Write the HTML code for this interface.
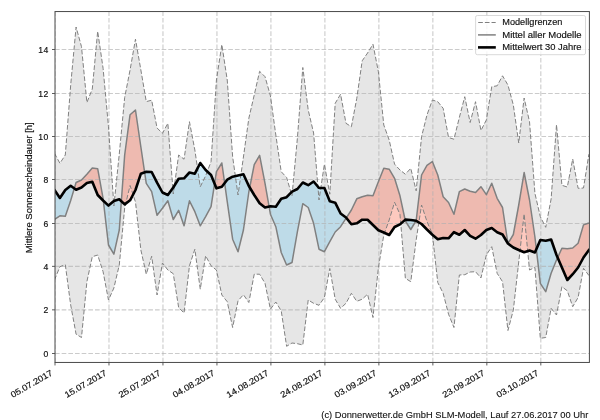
<!DOCTYPE html>
<html><head><meta charset="utf-8"><title>Mittlere Sonnenscheindauer</title>
<style>
html,body{margin:0;padding:0;background:#fff;}
body{width:600px;height:420px;overflow:hidden;font-family:"Liberation Sans",sans-serif;}
svg{display:block;}
text{font-family:"Liberation Sans",sans-serif;fill:#111;stroke:#111;stroke-width:0.18px;}
</style></head><body>
<svg width="600" height="420" viewBox="0 0 600 420">
<rect width="600" height="420" fill="#fff"/>
<defs>
<clipPath id="ax"><rect x="55.00" y="11.55" width="534.40" height="350.90"/></clipPath>
<clipPath id="above"><path d="M55.00,0.00 L54.50,190.00 L59.90,198.00 L65.30,190.00 L70.69,185.80 L76.09,189.70 L81.49,187.50 L86.89,183.00 L92.29,181.70 L97.68,195.00 L103.08,200.50 L108.48,205.60 L113.88,201.00 L119.28,199.30 L124.67,204.40 L130.07,200.30 L135.47,190.00 L140.87,173.70 L146.27,171.80 L151.66,172.00 L157.06,182.60 L162.46,192.50 L167.86,195.00 L173.26,187.50 L178.65,178.80 L184.05,178.30 L189.45,172.50 L194.85,173.70 L200.25,163.00 L205.64,170.00 L211.04,175.00 L216.44,188.30 L221.84,186.70 L227.24,179.70 L232.63,176.70 L238.03,175.50 L243.43,174.20 L248.83,186.00 L254.23,195.00 L259.62,203.30 L265.02,207.50 L270.42,206.30 L275.82,206.70 L281.22,198.80 L286.61,197.20 L292.01,191.70 L297.41,189.00 L302.81,182.50 L308.21,185.20 L313.60,181.50 L319.00,188.00 L324.40,188.00 L329.80,201.30 L335.20,202.70 L340.59,213.50 L345.99,217.50 L351.39,224.20 L356.79,223.30 L362.19,219.70 L367.58,219.80 L372.98,225.00 L378.38,230.30 L383.78,232.50 L389.18,235.00 L394.57,227.00 L399.97,224.40 L405.37,219.60 L410.77,220.00 L416.17,220.80 L421.56,224.00 L426.96,229.50 L432.36,234.70 L437.76,239.20 L443.16,238.00 L448.55,238.30 L453.95,232.20 L459.35,234.70 L464.75,230.00 L470.15,235.80 L475.54,238.70 L480.94,235.00 L486.34,230.00 L491.74,228.00 L497.14,232.20 L502.53,234.50 L507.93,243.50 L513.33,247.50 L518.73,250.00 L524.13,252.30 L529.52,250.50 L534.92,252.50 L540.32,240.00 L545.72,240.80 L551.12,239.50 L556.51,255.00 L561.91,267.50 L567.31,280.00 L572.71,274.20 L578.11,267.50 L583.50,257.50 L588.90,250.00 L589.40,0.00 Z"/></clipPath>
<clipPath id="below"><path d="M55.00,420.00 L54.50,190.00 L59.90,198.00 L65.30,190.00 L70.69,185.80 L76.09,189.70 L81.49,187.50 L86.89,183.00 L92.29,181.70 L97.68,195.00 L103.08,200.50 L108.48,205.60 L113.88,201.00 L119.28,199.30 L124.67,204.40 L130.07,200.30 L135.47,190.00 L140.87,173.70 L146.27,171.80 L151.66,172.00 L157.06,182.60 L162.46,192.50 L167.86,195.00 L173.26,187.50 L178.65,178.80 L184.05,178.30 L189.45,172.50 L194.85,173.70 L200.25,163.00 L205.64,170.00 L211.04,175.00 L216.44,188.30 L221.84,186.70 L227.24,179.70 L232.63,176.70 L238.03,175.50 L243.43,174.20 L248.83,186.00 L254.23,195.00 L259.62,203.30 L265.02,207.50 L270.42,206.30 L275.82,206.70 L281.22,198.80 L286.61,197.20 L292.01,191.70 L297.41,189.00 L302.81,182.50 L308.21,185.20 L313.60,181.50 L319.00,188.00 L324.40,188.00 L329.80,201.30 L335.20,202.70 L340.59,213.50 L345.99,217.50 L351.39,224.20 L356.79,223.30 L362.19,219.70 L367.58,219.80 L372.98,225.00 L378.38,230.30 L383.78,232.50 L389.18,235.00 L394.57,227.00 L399.97,224.40 L405.37,219.60 L410.77,220.00 L416.17,220.80 L421.56,224.00 L426.96,229.50 L432.36,234.70 L437.76,239.20 L443.16,238.00 L448.55,238.30 L453.95,232.20 L459.35,234.70 L464.75,230.00 L470.15,235.80 L475.54,238.70 L480.94,235.00 L486.34,230.00 L491.74,228.00 L497.14,232.20 L502.53,234.50 L507.93,243.50 L513.33,247.50 L518.73,250.00 L524.13,252.30 L529.52,250.50 L534.92,252.50 L540.32,240.00 L545.72,240.80 L551.12,239.50 L556.51,255.00 L561.91,267.50 L567.31,280.00 L572.71,274.20 L578.11,267.50 L583.50,257.50 L588.90,250.00 L589.40,420.00 Z"/></clipPath>
</defs>
<g clip-path="url(#ax)">
<path d="M54.50,153.30 L59.90,163.30 L65.30,155.00 L70.69,85.00 L76.09,27.00 L81.49,46.70 L86.89,102.50 L92.29,89.00 L97.68,31.30 L103.08,68.30 L108.48,126.70 L113.88,206.00 L119.28,154.00 L124.67,97.50 L130.07,70.00 L135.47,39.20 L140.87,70.00 L146.27,101.60 L151.66,100.20 L157.06,128.00 L162.46,133.30 L167.86,123.30 L173.26,194.00 L178.65,155.00 L184.05,159.20 L189.45,121.70 L194.85,150.00 L200.25,186.80 L205.64,175.80 L211.04,161.70 L216.44,80.00 L221.84,44.60 L227.24,80.00 L232.63,156.70 L238.03,195.00 L243.43,157.00 L248.83,118.30 L254.23,95.00 L259.62,71.30 L265.02,76.70 L270.42,95.80 L275.82,135.00 L281.22,171.70 L286.61,177.50 L292.01,195.80 L297.41,138.00 L302.81,67.50 L308.21,110.00 L313.60,133.00 L319.00,200.00 L324.40,164.20 L329.80,194.20 L335.20,103.30 L340.59,94.20 L345.99,123.30 L351.39,126.70 L356.79,98.30 L362.19,60.80 L367.58,53.00 L372.98,44.20 L378.38,71.70 L383.78,125.00 L389.18,140.00 L394.57,164.20 L399.97,170.00 L405.37,174.20 L410.77,168.30 L416.17,190.80 L421.56,136.70 L426.96,115.00 L432.36,100.00 L437.76,101.70 L443.16,108.30 L448.55,137.50 L453.95,139.20 L459.35,117.50 L464.75,96.70 L470.15,122.50 L475.54,101.70 L480.94,130.50 L486.34,120.00 L491.74,86.70 L497.14,85.80 L502.53,75.80 L507.93,85.00 L513.33,105.00 L518.73,143.00 L524.13,98.00 L529.52,121.70 L534.92,193.30 L540.32,216.70 L545.72,227.30 L551.12,199.00 L556.51,124.70 L561.91,185.30 L567.31,187.00 L572.71,159.00 L578.11,188.30 L583.50,188.00 L588.90,154.20 L588.90,275.50 L583.50,268.30 L578.11,297.50 L572.71,306.70 L567.31,290.80 L561.91,286.70 L556.51,315.00 L551.12,308.30 L545.72,337.50 L540.32,338.30 L534.92,267.50 L529.52,270.00 L524.13,214.00 L518.73,262.00 L513.33,310.00 L507.93,330.50 L502.53,281.70 L497.14,273.30 L491.74,246.70 L486.34,255.00 L480.94,278.00 L475.54,271.70 L470.15,272.00 L464.75,274.70 L459.35,275.00 L453.95,327.50 L448.55,314.20 L443.16,293.30 L437.76,282.50 L432.36,234.00 L426.96,221.50 L421.56,205.00 L416.17,240.00 L410.77,281.70 L405.37,278.30 L399.97,214.30 L394.57,202.30 L389.18,220.00 L383.78,235.00 L378.38,268.00 L372.98,317.50 L367.58,294.20 L362.19,299.20 L356.79,301.30 L351.39,293.30 L345.99,303.30 L340.59,308.30 L335.20,299.20 L329.80,268.50 L324.40,297.50 L319.00,305.30 L313.60,303.30 L308.21,300.00 L302.81,345.00 L297.41,343.70 L292.01,343.00 L286.61,346.30 L281.22,310.80 L275.82,302.00 L270.42,309.20 L265.02,283.30 L259.62,274.20 L254.23,274.20 L248.83,302.50 L243.43,294.70 L238.03,300.80 L232.63,327.50 L227.24,301.70 L221.84,295.00 L216.44,270.00 L211.04,265.80 L205.64,255.80 L200.25,289.20 L194.85,249.20 L189.45,265.80 L184.05,313.00 L178.65,307.50 L173.26,273.70 L167.86,270.00 L162.46,263.00 L157.06,295.00 L151.66,256.30 L146.27,274.20 L140.87,250.00 L135.47,202.00 L130.07,185.50 L124.67,208.00 L119.28,265.00 L113.88,288.00 L108.48,300.00 L103.08,271.70 L97.68,255.00 L92.29,256.70 L86.89,281.70 L81.49,337.50 L76.09,334.20 L70.69,305.00 L65.30,264.70 L59.90,266.70 L54.50,280.00 Z" fill="#808080" fill-opacity="0.2"/>
<g clip-path="url(#above)"><path d="M54.50,219.50 L59.90,215.80 L65.30,216.30 L70.69,200.50 L76.09,182.50 L81.49,180.00 L86.89,174.20 L92.29,168.00 L97.68,168.70 L103.08,198.30 L108.48,245.00 L113.88,254.20 L119.28,230.00 L124.67,155.00 L130.07,114.70 L135.47,110.00 L140.87,147.00 L146.27,183.30 L151.66,191.70 L157.06,215.30 L162.46,208.30 L167.86,200.80 L173.26,219.50 L178.65,210.30 L184.05,225.80 L189.45,200.80 L194.85,211.70 L200.25,225.80 L205.64,216.70 L211.04,206.70 L216.44,171.70 L221.84,163.00 L227.24,201.70 L232.63,239.20 L238.03,251.70 L243.43,230.00 L248.83,192.00 L254.23,164.70 L259.62,155.30 L265.02,183.30 L270.42,214.20 L275.82,226.70 L281.22,252.50 L286.61,265.00 L292.01,262.50 L297.41,231.70 L302.81,203.70 L308.21,207.50 L313.60,223.30 L319.00,249.20 L324.40,251.70 L329.80,241.70 L335.20,232.00 L340.59,226.70 L345.99,218.30 L351.39,210.00 L356.79,198.80 L362.19,196.70 L367.58,195.30 L372.98,195.80 L378.38,181.70 L383.78,168.30 L389.18,169.20 L394.57,178.30 L399.97,195.80 L405.37,221.00 L410.77,229.50 L416.17,220.50 L421.56,175.00 L426.96,165.40 L432.36,161.50 L437.76,175.00 L443.16,196.80 L448.55,202.50 L453.95,214.20 L459.35,191.70 L464.75,189.00 L470.15,191.30 L475.54,192.50 L480.94,186.70 L486.34,194.70 L491.74,183.30 L497.14,198.30 L502.53,207.50 L507.93,243.50 L513.33,234.50 L518.73,205.00 L524.13,172.50 L529.52,200.00 L534.92,237.00 L540.32,283.30 L545.72,291.70 L551.12,273.30 L556.51,260.00 L561.91,248.30 L567.31,248.70 L572.71,248.00 L578.11,243.30 L583.50,224.90 L588.90,223.00 L588.90,250.00 L583.50,257.50 L578.11,267.50 L572.71,274.20 L567.31,280.00 L561.91,267.50 L556.51,255.00 L551.12,239.50 L545.72,240.80 L540.32,240.00 L534.92,252.50 L529.52,250.50 L524.13,252.30 L518.73,250.00 L513.33,247.50 L507.93,243.50 L502.53,234.50 L497.14,232.20 L491.74,228.00 L486.34,230.00 L480.94,235.00 L475.54,238.70 L470.15,235.80 L464.75,230.00 L459.35,234.70 L453.95,232.20 L448.55,238.30 L443.16,238.00 L437.76,239.20 L432.36,234.70 L426.96,229.50 L421.56,224.00 L416.17,220.80 L410.77,220.00 L405.37,219.60 L399.97,224.40 L394.57,227.00 L389.18,235.00 L383.78,232.50 L378.38,230.30 L372.98,225.00 L367.58,219.80 L362.19,219.70 L356.79,223.30 L351.39,224.20 L345.99,217.50 L340.59,213.50 L335.20,202.70 L329.80,201.30 L324.40,188.00 L319.00,188.00 L313.60,181.50 L308.21,185.20 L302.81,182.50 L297.41,189.00 L292.01,191.70 L286.61,197.20 L281.22,198.80 L275.82,206.70 L270.42,206.30 L265.02,207.50 L259.62,203.30 L254.23,195.00 L248.83,186.00 L243.43,174.20 L238.03,175.50 L232.63,176.70 L227.24,179.70 L221.84,186.70 L216.44,188.30 L211.04,175.00 L205.64,170.00 L200.25,163.00 L194.85,173.70 L189.45,172.50 L184.05,178.30 L178.65,178.80 L173.26,187.50 L167.86,195.00 L162.46,192.50 L157.06,182.60 L151.66,172.00 L146.27,171.80 L140.87,173.70 L135.47,190.00 L130.07,200.30 L124.67,204.40 L119.28,199.30 L113.88,201.00 L108.48,205.60 L103.08,200.50 L97.68,195.00 L92.29,181.70 L86.89,183.00 L81.49,187.50 L76.09,189.70 L70.69,185.80 L65.30,190.00 L59.90,198.00 L54.50,190.00 Z" fill="#fa785f" fill-opacity="0.4"/></g>
<g clip-path="url(#below)"><path d="M54.50,219.50 L59.90,215.80 L65.30,216.30 L70.69,200.50 L76.09,182.50 L81.49,180.00 L86.89,174.20 L92.29,168.00 L97.68,168.70 L103.08,198.30 L108.48,245.00 L113.88,254.20 L119.28,230.00 L124.67,155.00 L130.07,114.70 L135.47,110.00 L140.87,147.00 L146.27,183.30 L151.66,191.70 L157.06,215.30 L162.46,208.30 L167.86,200.80 L173.26,219.50 L178.65,210.30 L184.05,225.80 L189.45,200.80 L194.85,211.70 L200.25,225.80 L205.64,216.70 L211.04,206.70 L216.44,171.70 L221.84,163.00 L227.24,201.70 L232.63,239.20 L238.03,251.70 L243.43,230.00 L248.83,192.00 L254.23,164.70 L259.62,155.30 L265.02,183.30 L270.42,214.20 L275.82,226.70 L281.22,252.50 L286.61,265.00 L292.01,262.50 L297.41,231.70 L302.81,203.70 L308.21,207.50 L313.60,223.30 L319.00,249.20 L324.40,251.70 L329.80,241.70 L335.20,232.00 L340.59,226.70 L345.99,218.30 L351.39,210.00 L356.79,198.80 L362.19,196.70 L367.58,195.30 L372.98,195.80 L378.38,181.70 L383.78,168.30 L389.18,169.20 L394.57,178.30 L399.97,195.80 L405.37,221.00 L410.77,229.50 L416.17,220.50 L421.56,175.00 L426.96,165.40 L432.36,161.50 L437.76,175.00 L443.16,196.80 L448.55,202.50 L453.95,214.20 L459.35,191.70 L464.75,189.00 L470.15,191.30 L475.54,192.50 L480.94,186.70 L486.34,194.70 L491.74,183.30 L497.14,198.30 L502.53,207.50 L507.93,243.50 L513.33,234.50 L518.73,205.00 L524.13,172.50 L529.52,200.00 L534.92,237.00 L540.32,283.30 L545.72,291.70 L551.12,273.30 L556.51,260.00 L561.91,248.30 L567.31,248.70 L572.71,248.00 L578.11,243.30 L583.50,224.90 L588.90,223.00 L588.90,250.00 L583.50,257.50 L578.11,267.50 L572.71,274.20 L567.31,280.00 L561.91,267.50 L556.51,255.00 L551.12,239.50 L545.72,240.80 L540.32,240.00 L534.92,252.50 L529.52,250.50 L524.13,252.30 L518.73,250.00 L513.33,247.50 L507.93,243.50 L502.53,234.50 L497.14,232.20 L491.74,228.00 L486.34,230.00 L480.94,235.00 L475.54,238.70 L470.15,235.80 L464.75,230.00 L459.35,234.70 L453.95,232.20 L448.55,238.30 L443.16,238.00 L437.76,239.20 L432.36,234.70 L426.96,229.50 L421.56,224.00 L416.17,220.80 L410.77,220.00 L405.37,219.60 L399.97,224.40 L394.57,227.00 L389.18,235.00 L383.78,232.50 L378.38,230.30 L372.98,225.00 L367.58,219.80 L362.19,219.70 L356.79,223.30 L351.39,224.20 L345.99,217.50 L340.59,213.50 L335.20,202.70 L329.80,201.30 L324.40,188.00 L319.00,188.00 L313.60,181.50 L308.21,185.20 L302.81,182.50 L297.41,189.00 L292.01,191.70 L286.61,197.20 L281.22,198.80 L275.82,206.70 L270.42,206.30 L265.02,207.50 L259.62,203.30 L254.23,195.00 L248.83,186.00 L243.43,174.20 L238.03,175.50 L232.63,176.70 L227.24,179.70 L221.84,186.70 L216.44,188.30 L211.04,175.00 L205.64,170.00 L200.25,163.00 L194.85,173.70 L189.45,172.50 L184.05,178.30 L178.65,178.80 L173.26,187.50 L167.86,195.00 L162.46,192.50 L157.06,182.60 L151.66,172.00 L146.27,171.80 L140.87,173.70 L135.47,190.00 L130.07,200.30 L124.67,204.40 L119.28,199.30 L113.88,201.00 L108.48,205.60 L103.08,200.50 L97.68,195.00 L92.29,181.70 L86.89,183.00 L81.49,187.50 L76.09,189.70 L70.69,185.80 L65.30,190.00 L59.90,198.00 L54.50,190.00 Z" fill="#87ceeb" fill-opacity="0.42"/></g>
<path d="M55.00,362.45 V11.55" stroke="#b0b0b0" stroke-opacity="0.66" stroke-width="1.1" stroke-dasharray="4.652 2.012" fill="none"/>
<path d="M108.98,362.45 V11.55" stroke="#b0b0b0" stroke-opacity="0.66" stroke-width="1.1" stroke-dasharray="4.652 2.012" fill="none"/>
<path d="M162.96,362.45 V11.55" stroke="#b0b0b0" stroke-opacity="0.66" stroke-width="1.1" stroke-dasharray="4.652 2.012" fill="none"/>
<path d="M216.94,362.45 V11.55" stroke="#b0b0b0" stroke-opacity="0.66" stroke-width="1.1" stroke-dasharray="4.652 2.012" fill="none"/>
<path d="M270.92,362.45 V11.55" stroke="#b0b0b0" stroke-opacity="0.66" stroke-width="1.1" stroke-dasharray="4.652 2.012" fill="none"/>
<path d="M324.90,362.45 V11.55" stroke="#b0b0b0" stroke-opacity="0.66" stroke-width="1.1" stroke-dasharray="4.652 2.012" fill="none"/>
<path d="M378.88,362.45 V11.55" stroke="#b0b0b0" stroke-opacity="0.66" stroke-width="1.1" stroke-dasharray="4.652 2.012" fill="none"/>
<path d="M432.86,362.45 V11.55" stroke="#b0b0b0" stroke-opacity="0.66" stroke-width="1.1" stroke-dasharray="4.652 2.012" fill="none"/>
<path d="M486.84,362.45 V11.55" stroke="#b0b0b0" stroke-opacity="0.66" stroke-width="1.1" stroke-dasharray="4.652 2.012" fill="none"/>
<path d="M540.82,362.45 V11.55" stroke="#b0b0b0" stroke-opacity="0.66" stroke-width="1.1" stroke-dasharray="4.652 2.012" fill="none"/>
<path d="M55.00,353.50 H589.40" stroke="#b0b0b0" stroke-opacity="0.66" stroke-width="1.1" stroke-dasharray="4.652 2.012" fill="none"/>
<path d="M55.00,309.85 H589.40" stroke="#b0b0b0" stroke-opacity="0.66" stroke-width="1.1" stroke-dasharray="4.652 2.012" fill="none"/>
<path d="M55.00,266.35 H589.40" stroke="#b0b0b0" stroke-opacity="0.66" stroke-width="1.1" stroke-dasharray="4.652 2.012" fill="none"/>
<path d="M55.00,223.50 H589.40" stroke="#b0b0b0" stroke-opacity="0.66" stroke-width="1.1" stroke-dasharray="4.652 2.012" fill="none"/>
<path d="M55.00,179.50 H589.40" stroke="#b0b0b0" stroke-opacity="0.66" stroke-width="1.1" stroke-dasharray="4.652 2.012" fill="none"/>
<path d="M55.00,136.50 H589.40" stroke="#b0b0b0" stroke-opacity="0.66" stroke-width="1.1" stroke-dasharray="4.652 2.012" fill="none"/>
<path d="M55.00,93.50 H589.40" stroke="#b0b0b0" stroke-opacity="0.66" stroke-width="1.1" stroke-dasharray="4.652 2.012" fill="none"/>
<path d="M55.00,49.50 H589.40" stroke="#b0b0b0" stroke-opacity="0.66" stroke-width="1.1" stroke-dasharray="4.652 2.012" fill="none"/>
<path d="M54.50,153.30 L59.90,163.30 L65.30,155.00 L70.69,85.00 L76.09,27.00 L81.49,46.70 L86.89,102.50 L92.29,89.00 L97.68,31.30 L103.08,68.30 L108.48,126.70 L113.88,206.00 L119.28,154.00 L124.67,97.50 L130.07,70.00 L135.47,39.20 L140.87,70.00 L146.27,101.60 L151.66,100.20 L157.06,128.00 L162.46,133.30 L167.86,123.30 L173.26,194.00 L178.65,155.00 L184.05,159.20 L189.45,121.70 L194.85,150.00 L200.25,186.80 L205.64,175.80 L211.04,161.70 L216.44,80.00 L221.84,44.60 L227.24,80.00 L232.63,156.70 L238.03,195.00 L243.43,157.00 L248.83,118.30 L254.23,95.00 L259.62,71.30 L265.02,76.70 L270.42,95.80 L275.82,135.00 L281.22,171.70 L286.61,177.50 L292.01,195.80 L297.41,138.00 L302.81,67.50 L308.21,110.00 L313.60,133.00 L319.00,200.00 L324.40,164.20 L329.80,194.20 L335.20,103.30 L340.59,94.20 L345.99,123.30 L351.39,126.70 L356.79,98.30 L362.19,60.80 L367.58,53.00 L372.98,44.20 L378.38,71.70 L383.78,125.00 L389.18,140.00 L394.57,164.20 L399.97,170.00 L405.37,174.20 L410.77,168.30 L416.17,190.80 L421.56,136.70 L426.96,115.00 L432.36,100.00 L437.76,101.70 L443.16,108.30 L448.55,137.50 L453.95,139.20 L459.35,117.50 L464.75,96.70 L470.15,122.50 L475.54,101.70 L480.94,130.50 L486.34,120.00 L491.74,86.70 L497.14,85.80 L502.53,75.80 L507.93,85.00 L513.33,105.00 L518.73,143.00 L524.13,98.00 L529.52,121.70 L534.92,193.30 L540.32,216.70 L545.72,227.30 L551.12,199.00 L556.51,124.70 L561.91,185.30 L567.31,187.00 L572.71,159.00 L578.11,188.30 L583.50,188.00 L588.90,154.20" stroke="#808080" stroke-width="1.0" stroke-dasharray="4.652 2.012" fill="none" stroke-linejoin="miter"/>
<path d="M54.50,280.00 L59.90,266.70 L65.30,264.70 L70.69,305.00 L76.09,334.20 L81.49,337.50 L86.89,281.70 L92.29,256.70 L97.68,255.00 L103.08,271.70 L108.48,300.00 L113.88,288.00 L119.28,265.00 L124.67,208.00 L130.07,185.50 L135.47,202.00 L140.87,250.00 L146.27,274.20 L151.66,256.30 L157.06,295.00 L162.46,263.00 L167.86,270.00 L173.26,273.70 L178.65,307.50 L184.05,313.00 L189.45,265.80 L194.85,249.20 L200.25,289.20 L205.64,255.80 L211.04,265.80 L216.44,270.00 L221.84,295.00 L227.24,301.70 L232.63,327.50 L238.03,300.80 L243.43,294.70 L248.83,302.50 L254.23,274.20 L259.62,274.20 L265.02,283.30 L270.42,309.20 L275.82,302.00 L281.22,310.80 L286.61,346.30 L292.01,343.00 L297.41,343.70 L302.81,345.00 L308.21,300.00 L313.60,303.30 L319.00,305.30 L324.40,297.50 L329.80,268.50 L335.20,299.20 L340.59,308.30 L345.99,303.30 L351.39,293.30 L356.79,301.30 L362.19,299.20 L367.58,294.20 L372.98,317.50 L378.38,268.00 L383.78,235.00 L389.18,220.00 L394.57,202.30 L399.97,214.30 L405.37,278.30 L410.77,281.70 L416.17,240.00 L421.56,205.00 L426.96,221.50 L432.36,234.00 L437.76,282.50 L443.16,293.30 L448.55,314.20 L453.95,327.50 L459.35,275.00 L464.75,274.70 L470.15,272.00 L475.54,271.70 L480.94,278.00 L486.34,255.00 L491.74,246.70 L497.14,273.30 L502.53,281.70 L507.93,330.50 L513.33,310.00 L518.73,262.00 L524.13,214.00 L529.52,270.00 L534.92,267.50 L540.32,338.30 L545.72,337.50 L551.12,308.30 L556.51,315.00 L561.91,286.70 L567.31,290.80 L572.71,306.70 L578.11,297.50 L583.50,268.30 L588.90,275.50" stroke="#808080" stroke-width="1.0" stroke-dasharray="4.652 2.012" fill="none" stroke-linejoin="miter"/>
<path d="M54.50,219.50 L59.90,215.80 L65.30,216.30 L70.69,200.50 L76.09,182.50 L81.49,180.00 L86.89,174.20 L92.29,168.00 L97.68,168.70 L103.08,198.30 L108.48,245.00 L113.88,254.20 L119.28,230.00 L124.67,155.00 L130.07,114.70 L135.47,110.00 L140.87,147.00 L146.27,183.30 L151.66,191.70 L157.06,215.30 L162.46,208.30 L167.86,200.80 L173.26,219.50 L178.65,210.30 L184.05,225.80 L189.45,200.80 L194.85,211.70 L200.25,225.80 L205.64,216.70 L211.04,206.70 L216.44,171.70 L221.84,163.00 L227.24,201.70 L232.63,239.20 L238.03,251.70 L243.43,230.00 L248.83,192.00 L254.23,164.70 L259.62,155.30 L265.02,183.30 L270.42,214.20 L275.82,226.70 L281.22,252.50 L286.61,265.00 L292.01,262.50 L297.41,231.70 L302.81,203.70 L308.21,207.50 L313.60,223.30 L319.00,249.20 L324.40,251.70 L329.80,241.70 L335.20,232.00 L340.59,226.70 L345.99,218.30 L351.39,210.00 L356.79,198.80 L362.19,196.70 L367.58,195.30 L372.98,195.80 L378.38,181.70 L383.78,168.30 L389.18,169.20 L394.57,178.30 L399.97,195.80 L405.37,221.00 L410.77,229.50 L416.17,220.50 L421.56,175.00 L426.96,165.40 L432.36,161.50 L437.76,175.00 L443.16,196.80 L448.55,202.50 L453.95,214.20 L459.35,191.70 L464.75,189.00 L470.15,191.30 L475.54,192.50 L480.94,186.70 L486.34,194.70 L491.74,183.30 L497.14,198.30 L502.53,207.50 L507.93,243.50 L513.33,234.50 L518.73,205.00 L524.13,172.50 L529.52,200.00 L534.92,237.00 L540.32,283.30 L545.72,291.70 L551.12,273.30 L556.51,260.00 L561.91,248.30 L567.31,248.70 L572.71,248.00 L578.11,243.30 L583.50,224.90 L588.90,223.00" stroke="#808080" stroke-width="1.5" fill="none" stroke-linejoin="round"/>
<path d="M54.50,190.00 L59.90,198.00 L65.30,190.00 L70.69,185.80 L76.09,189.70 L81.49,187.50 L86.89,183.00 L92.29,181.70 L97.68,195.00 L103.08,200.50 L108.48,205.60 L113.88,201.00 L119.28,199.30 L124.67,204.40 L130.07,200.30 L135.47,190.00 L140.87,173.70 L146.27,171.80 L151.66,172.00 L157.06,182.60 L162.46,192.50 L167.86,195.00 L173.26,187.50 L178.65,178.80 L184.05,178.30 L189.45,172.50 L194.85,173.70 L200.25,163.00 L205.64,170.00 L211.04,175.00 L216.44,188.30 L221.84,186.70 L227.24,179.70 L232.63,176.70 L238.03,175.50 L243.43,174.20 L248.83,186.00 L254.23,195.00 L259.62,203.30 L265.02,207.50 L270.42,206.30 L275.82,206.70 L281.22,198.80 L286.61,197.20 L292.01,191.70 L297.41,189.00 L302.81,182.50 L308.21,185.20 L313.60,181.50 L319.00,188.00 L324.40,188.00 L329.80,201.30 L335.20,202.70 L340.59,213.50 L345.99,217.50 L351.39,224.20 L356.79,223.30 L362.19,219.70 L367.58,219.80 L372.98,225.00 L378.38,230.30 L383.78,232.50 L389.18,235.00 L394.57,227.00 L399.97,224.40 L405.37,219.60 L410.77,220.00 L416.17,220.80 L421.56,224.00 L426.96,229.50 L432.36,234.70 L437.76,239.20 L443.16,238.00 L448.55,238.30 L453.95,232.20 L459.35,234.70 L464.75,230.00 L470.15,235.80 L475.54,238.70 L480.94,235.00 L486.34,230.00 L491.74,228.00 L497.14,232.20 L502.53,234.50 L507.93,243.50 L513.33,247.50 L518.73,250.00 L524.13,252.30 L529.52,250.50 L534.92,252.50 L540.32,240.00 L545.72,240.80 L551.12,239.50 L556.51,255.00 L561.91,267.50 L567.31,280.00 L572.71,274.20 L578.11,267.50 L583.50,257.50 L588.90,250.00" stroke="#000" stroke-width="2.6" fill="none" stroke-linejoin="round" stroke-linecap="square"/>
</g>
<rect x="55.00" y="11.55" width="534.40" height="350.90" fill="none" stroke="#4a4a4a" stroke-width="1"/>
<path d="M55.00,362.45 v3" stroke="#4a4a4a" stroke-width="0.9"/>
<path d="M108.98,362.45 v3" stroke="#4a4a4a" stroke-width="0.9"/>
<path d="M162.96,362.45 v3" stroke="#4a4a4a" stroke-width="0.9"/>
<path d="M216.94,362.45 v3" stroke="#4a4a4a" stroke-width="0.9"/>
<path d="M270.92,362.45 v3" stroke="#4a4a4a" stroke-width="0.9"/>
<path d="M324.90,362.45 v3" stroke="#4a4a4a" stroke-width="0.9"/>
<path d="M378.88,362.45 v3" stroke="#4a4a4a" stroke-width="0.9"/>
<path d="M432.86,362.45 v3" stroke="#4a4a4a" stroke-width="0.9"/>
<path d="M486.84,362.45 v3" stroke="#4a4a4a" stroke-width="0.9"/>
<path d="M540.82,362.45 v3" stroke="#4a4a4a" stroke-width="0.9"/>
<path d="M55.00,353.50 h-3" stroke="#4a4a4a" stroke-width="0.9"/>
<path d="M55.00,309.85 h-3" stroke="#4a4a4a" stroke-width="0.9"/>
<path d="M55.00,266.35 h-3" stroke="#4a4a4a" stroke-width="0.9"/>
<path d="M55.00,223.50 h-3" stroke="#4a4a4a" stroke-width="0.9"/>
<path d="M55.00,179.50 h-3" stroke="#4a4a4a" stroke-width="0.9"/>
<path d="M55.00,136.50 h-3" stroke="#4a4a4a" stroke-width="0.9"/>
<path d="M55.00,93.50 h-3" stroke="#4a4a4a" stroke-width="0.9"/>
<path d="M55.00,49.50 h-3" stroke="#4a4a4a" stroke-width="0.9"/>
<g opacity="0.999">
<text x="48.30" y="356.90" font-size="8.6" text-anchor="end">0</text>
<text x="48.30" y="313.25" font-size="8.6" text-anchor="end">2</text>
<text x="48.30" y="269.75" font-size="8.6" text-anchor="end">4</text>
<text x="48.30" y="226.90" font-size="8.6" text-anchor="end">6</text>
<text x="48.30" y="182.90" font-size="8.6" text-anchor="end">8</text>
<text x="48.30" y="139.90" font-size="8.6" text-anchor="end">0</text>
<text x="43.00" y="139.90" font-size="8.6" text-anchor="end">1</text>
<text x="48.30" y="96.90" font-size="8.6" text-anchor="end">2</text>
<text x="43.00" y="96.90" font-size="8.6" text-anchor="end">1</text>
<text x="48.30" y="52.90" font-size="8.6" text-anchor="end">4</text>
<text x="43.00" y="52.90" font-size="8.6" text-anchor="end">1</text>
<text transform="translate(53.40,374.60) rotate(-30)" font-size="8.6" text-anchor="end" textLength="47.0" lengthAdjust="spacingAndGlyphs">05.07.2017</text>
<text transform="translate(107.38,374.60) rotate(-30)" font-size="8.6" text-anchor="end" textLength="47.0" lengthAdjust="spacingAndGlyphs">15.07.2017</text>
<text transform="translate(161.36,374.60) rotate(-30)" font-size="8.6" text-anchor="end" textLength="47.0" lengthAdjust="spacingAndGlyphs">25.07.2017</text>
<text transform="translate(215.34,374.60) rotate(-30)" font-size="8.6" text-anchor="end" textLength="47.0" lengthAdjust="spacingAndGlyphs">04.08.2017</text>
<text transform="translate(269.32,374.60) rotate(-30)" font-size="8.6" text-anchor="end" textLength="47.0" lengthAdjust="spacingAndGlyphs">14.08.2017</text>
<text transform="translate(323.30,374.60) rotate(-30)" font-size="8.6" text-anchor="end" textLength="47.0" lengthAdjust="spacingAndGlyphs">24.08.2017</text>
<text transform="translate(377.28,374.60) rotate(-30)" font-size="8.6" text-anchor="end" textLength="47.0" lengthAdjust="spacingAndGlyphs">03.09.2017</text>
<text transform="translate(431.26,374.60) rotate(-30)" font-size="8.6" text-anchor="end" textLength="47.0" lengthAdjust="spacingAndGlyphs">13.09.2017</text>
<text transform="translate(485.24,374.60) rotate(-30)" font-size="8.6" text-anchor="end" textLength="47.0" lengthAdjust="spacingAndGlyphs">23.09.2017</text>
<text transform="translate(539.22,374.60) rotate(-30)" font-size="8.6" text-anchor="end" textLength="47.0" lengthAdjust="spacingAndGlyphs">03.10.2017</text>
<text transform="translate(31.9,187.8) rotate(-90)" font-size="8.6" text-anchor="middle" textLength="131" lengthAdjust="spacingAndGlyphs">Mittlere Sonnenscheindauer [h]</text>
<text x="588.3" y="418" style="stroke-width:0.1px" font-size="8.6" text-anchor="end" textLength="267" lengthAdjust="spacingAndGlyphs">(c) Donnerwetter.de GmbH SLM-Modell, Lauf 27.06.2017 00 Uhr</text>
<rect x="475.6" y="15.5" width="109.9" height="39.2" rx="1.7" ry="1.7" fill="#fff" fill-opacity="0.8" stroke="#d2d2d2" stroke-width="0.85"/>
<path d="M478.2,22.5 H495.7" stroke="#808080" stroke-width="1.0" stroke-dasharray="4.652 2.012"/>
<path d="M478,34.9 H495.8" stroke="#808080" stroke-width="1.5"/>
<path d="M478,47.4 H495.8" stroke="#000" stroke-width="2.6"/>
<text x="502.3" y="25.4" style="stroke-width:0.15px" font-size="8.6" textLength="60.1" lengthAdjust="spacingAndGlyphs">Modellgrenzen</text>
<text x="502.3" y="37.8" style="stroke-width:0.15px" font-size="8.6" textLength="79.3" lengthAdjust="spacingAndGlyphs">Mittel aller Modelle</text>
<text x="502.3" y="50.3" style="stroke-width:0.15px" font-size="8.6" textLength="79.3" lengthAdjust="spacingAndGlyphs">Mittelwert 30 Jahre</text>
</g>
</svg></body></html>
